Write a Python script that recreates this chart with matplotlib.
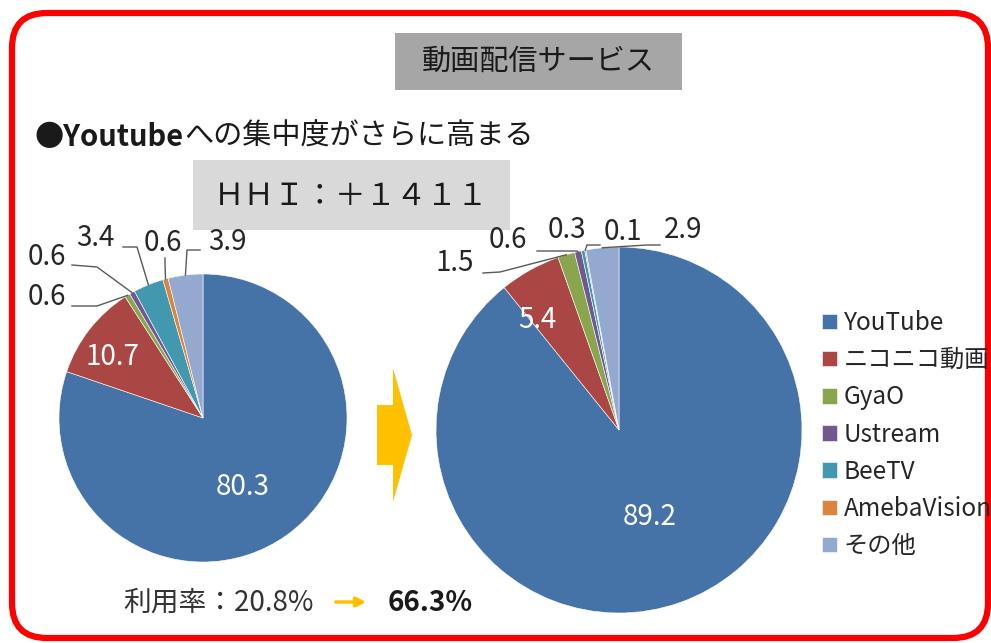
import numpy as np
import matplotlib.pyplot as plt
from matplotlib.patches import FancyBboxPatch, Rectangle, Polygon

plt.rcParams['font.family'] = ['Noto Sans CJK JP', 'DejaVu Sans']

# データ
services = ['YouTube', 'ニコニコ動画', 'GyaO', 'Ustream', 'BeeTV', 'AmebaVision', 'その他']
share_before = [80.3, 10.7, 0.6, 0.6, 3.4, 0.6, 3.9]
share_after = [89.2, 5.4, 1.5, 0.6, 0.3, 0.1, 2.9]
colors = ['#4572A7', '#AA4643', '#89A54E', '#71588F', '#4198AF', '#DB843D', '#93A9CF']
usage_before = 20.8
usage_after = 66.3
hhi_change = 1411

W, H = 991, 643


def py(y):
    # ピクセル座標(上から)をデータ座標(下から)に変換
    return H - y


fig = plt.figure(figsize=(W / 100, H / 100), dpi=100)
ax = fig.add_axes([0, 0, 1, 1])

# 円グラフの配置とラベル位置 (ピクセル)
pies = [
    {
        'values': share_before, 'center': (203, 418), 'radius': 144,
        'labels': [(243, 487), (112, 357), (47, 297), (47, 257), (95, 238), (163, 243), (227, 242)],
        'inside': [True, True, False, False, False, False, False],
        'leaders': [None, None,
                    [(72, 306), (97, 306)],
                    [(72, 265), (97, 267)],
                    [(123, 247), (137, 247)],
                    [(165, 258), (165, 262)],
                    [(200, 250), (187, 250)]],
    },
    {
        'values': share_after, 'center': (619, 430), 'radius': 183,
        'labels': [(650, 517), (537, 320), (455, 263), (508, 240), (567, 230), (623, 232), (683, 230)],
        'inside': [True, True, False, False, False, False, False],
        'leaders': [None, None,
                    [(483, 273), (500, 272)],
                    [(537, 251), (577, 251)],
                    None,
                    [(600, 245), (587, 245)],
                    [(660, 245), (647, 245)]],
    },
]

wedges_right = None
for p in pies:
    cx, cy = p['center']
    r = p['radius']
    wedges, _ = ax.pie(p['values'], colors=colors, startangle=90, counterclock=False,
                       center=(cx, py(cy)), radius=r, frame=True,
                       wedgeprops=dict(linewidth=0.4, edgecolor='white'))
    for w, v, pos, inside, leader in zip(wedges, p['values'], p['labels'], p['inside'], p['leaders']):
        if inside:
            ax.text(pos[0], py(pos[1]), f'{v:.1f}', color='white', fontsize=20,
                    ha='center', va='center')
        else:
            ax.text(pos[0], py(pos[1]), f'{v:.1f}', color='#262626', fontsize=20,
                    ha='center', va='center')
            if leader is not None:
                mid = np.deg2rad((w.theta1 + w.theta2) / 2)
                ex = cx + r * np.cos(mid)
                ey = py(cy) + r * np.sin(mid)
                xs = [leader[0][0], leader[1][0], ex]
                ys = [py(leader[0][1]), py(leader[1][1]), ey]
                ax.plot(xs, ys, color='#595959', lw=1)
    wedges_right = wedges

# 枠線
ax.add_patch(FancyBboxPatch((12, py(638)), 976, 625,
                            boxstyle='round,pad=0,rounding_size=35',
                            fill=False, ec='#ff0000', lw=4.5))

# タイトル
ax.add_patch(Rectangle((395, py(90)), 287, 57, fc='#a6a6a6', ec='none'))
ax.text(538, py(62), '動画配信サービス', fontsize=21, ha='center', va='center', color='#1a1a1a')

# サブタイトル
t1 = ax.text(35, py(152), '●Youtube', fontsize=21, fontweight='bold', ha='left', va='bottom',
             color='#1a1a1a')
ax.annotate('への集中度がさらに高まる', xy=(1, 0), xycoords=t1, fontsize=21,
            ha='left', va='bottom', color='#1a1a1a')

# HHI
ax.add_patch(Rectangle((193, py(230)), 317, 70, fc='#d9d9d9', ec='none'))
hhi_text = 'ＨＨＩ：＋' + ''.join(chr(ord(c) + 0xFEE0) for c in str(hhi_change))
ax.text(351, py(196), hhi_text, fontsize=22, ha='center', va='center', color='#1a1a1a')

# 矢印
ax.add_patch(Polygon([(377, py(405)), (393, py(405)), (393, py(368)), (412, py(435)),
                      (393, py(502)), (393, py(465)), (377, py(465))],
                     closed=True, fc='#FFC000', ec='none'))

# 利用率
ax.text(123, py(603), f'利用率：{usage_before}%', fontsize=20, ha='left', va='center',
        color='#333333')
ax.annotate('', xy=(369, py(602)), xytext=(333, py(602)),
            arrowprops=dict(arrowstyle='-|>', color='#FFC000', lw=2.5, mutation_scale=14))
ax.text(388, py(603), f'{usage_after}%', fontsize=20, fontweight='bold', ha='left', va='center',
        color='#1a1a1a')

# 凡例
ax.legend(wedges_right, services, loc='upper left', bbox_to_anchor=(822, py(310)),
          bbox_transform=ax.transData, frameon=False, fontsize=17.5,
          handlelength=0.6, handleheight=0.6, handletextpad=0.3, labelspacing=0.46,
          borderpad=0, borderaxespad=0, labelcolor='#262626')

ax.set_xlim(0, W)
ax.set_ylim(0, H)
ax.set_aspect('equal')
ax.axis('off')

fig.savefig('out.png', dpi=100)
